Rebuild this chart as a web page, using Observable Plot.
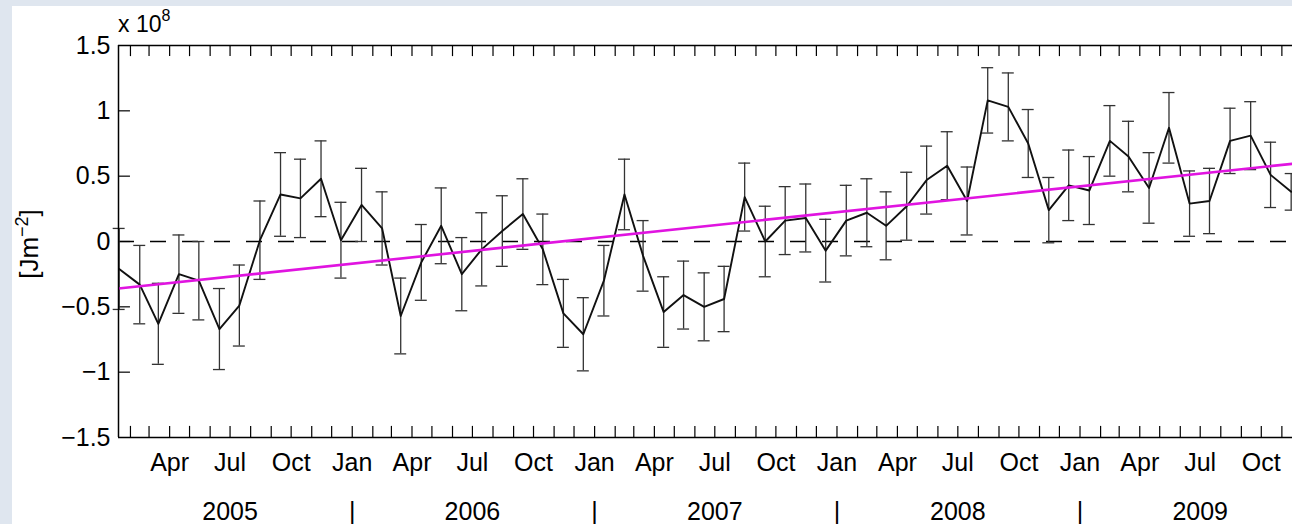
<!DOCTYPE html>
<html>
<head>
<meta charset="utf-8">
<script src="https://cdn.jsdelivr.net/npm/d3@7"></script>
<script src="https://cdn.jsdelivr.net/npm/@observablehq/plot@0.6"></script>
<style>
  html, body { margin: 0; padding: 0; overflow: hidden; }
  body { width: 1292px; height: 524px; position: relative; background: #dfe6ef; font-family: "Liberation Sans", Arial, sans-serif; }
  #paper { position: absolute; left: 12px; top: 6px; right: 0; bottom: 0; background: #ffffff; }
  #chart { position: absolute; left: 0; top: 0; width: 1292px; height: 524px; }
  #chart svg { max-width: none !important; display: block; }
  #ylab { position: absolute; left: 30px; top: 244px; transform: translate(-50%, -50%) rotate(-90deg); white-space: nowrap; font-size: 26px; line-height: 30px; color: #000; }
  #ylab .sup { font-size: 18px; position: relative; top: -10px; }
  #expo { position: absolute; left: 118px; top: 13px; font-size: 23px; line-height: 23px; color: #000; white-space: nowrap; }
  #expo .sup { font-size: 16px; position: relative; top: -11px; }
</style>
</head>
<body>
<div id="paper"></div>
<div id="chart"></div>
<div id="ylab">[Jm<span class="sup">−2</span>]</div>
<div id="expo">x 10<span class="sup">8</span></div>
<script>
// ---- data (monthly, starting January 2005; units of 10^8 J m^-2) ----
const startYear = 2005;
const anomaly = [
  -0.21, -0.33, -0.63, -0.25, -0.30, -0.67, -0.49,  0.01,  0.36,  0.33,  0.48,  0.01,
   0.28,  0.10, -0.57, -0.16,  0.12, -0.25, -0.06,  0.08,  0.21, -0.06, -0.55, -0.71,
  -0.30,  0.36, -0.11, -0.54, -0.41, -0.50, -0.44,  0.34,  0.00,  0.16,  0.18, -0.07,
   0.16,  0.22,  0.12,  0.27,  0.47,  0.58,  0.31,  1.08,  1.03,  0.75,  0.24,  0.43,
   0.39,  0.77,  0.65,  0.41,  0.87,  0.29,  0.31,  0.77,  0.81,  0.51,  0.38
];
const uncertainty = [
  0.31, 0.30, 0.31, 0.30, 0.30, 0.31, 0.31, 0.30, 0.32, 0.30, 0.29, 0.29,
  0.28, 0.28, 0.29, 0.29, 0.29, 0.28, 0.28, 0.27, 0.27, 0.27, 0.26, 0.28,
  0.27, 0.27, 0.27, 0.27, 0.26, 0.26, 0.25, 0.26, 0.27, 0.26, 0.26, 0.24,
  0.27, 0.26, 0.26, 0.26, 0.26, 0.26, 0.26, 0.25, 0.26, 0.26, 0.25, 0.27,
  0.26, 0.27, 0.27, 0.27, 0.27, 0.25, 0.25, 0.25, 0.26, 0.25, 0.14
];
const trendEnds = [-0.36, 0.61];           // linear fit at Jan 2005 / Dec 2009
const monthLabels = ["Jan", "Apr", "Jul", "Oct"];
const yearLabels = ["2005", "2006", "2007", "2008", "2009"];
const yTicks = [-1.5, -1, -0.5, 0, 0.5, 1, 1.5];

// ---- derived tables ----
const DAY = 864e5;
const series = anomaly.map((v, i) => ({date: new Date(Date.UTC(startYear, i, 15)), v, e: uncertainty[i]}));
const recordStart = new Date(Date.UTC(startYear, 0, 14));
const recordEnd = new Date(Date.UTC(2009, 11, 15));
const viewEnd = new Date(Date.UTC(2009, 10, 17));   // picture is cropped here
const trend = [{date: recordStart, v: trendEnds[0]}, {date: recordEnd, v: trendEnds[1]}];

const monthStarts = [];
for (let y = startYear; y < startYear + yearLabels.length; y++)
  for (let m = 0; m < 12; m++) {
    const d = new Date(Date.UTC(y, m, 1));
    if (d >= recordStart && d <= viewEnd) monthStarts.push(d);
  }
const quarterTicks = monthStarts.filter(d => d.getUTCMonth() % 3 === 0);
const yearCenters = yearLabels.map(y => ({label: y, date: new Date(Date.UTC(+y, 6, 1))}));
const yearSeps = yearLabels.slice(1).map(y => new Date(Date.UTC(+y, 0, 1)));
const tickLenX = 18 * DAY, tickLenY = 0.085, capHalf = 9 * DAY;
const innerY = yTicks.slice(1, -1);
const fmt = d => String(d).replace("-", "\u2212");

const chart = Plot.plot({
  width: 1292, height: 524, marginLeft: 118, marginRight: 0, marginTop: 45, marginBottom: 87,
  style: {fontFamily: "'Liberation Sans', Arial, sans-serif", fontSize: "25px", color: "#000", background: "transparent", overflow: "hidden", maxWidth: "none"},
  x: {type: "utc", domain: [recordStart, viewEnd], axis: null, label: null},
  y: {domain: [-1.5, 1.5], axis: null, label: null},
  marks: [
    Plot.ruleY([0], {stroke: "#000", strokeWidth: 1.5, strokeDasharray: "16,16"}),
    // inward ticks
    Plot.ruleX(monthStarts, {x: d => d, y1: -1.5, y2: -1.5 + tickLenY, stroke: "#000", strokeWidth: 1.2}),
    Plot.ruleX(monthStarts, {x: d => d, y1: 1.5, y2: 1.5 - tickLenY, stroke: "#000", strokeWidth: 1.2}),
    Plot.ruleY(innerY, {y: d => d, x1: recordStart, x2: new Date(+recordStart + tickLenX), stroke: "#000", strokeWidth: 1.2}),
    // error bars
    Plot.ruleX(series, {x: "date", y1: d => d.v - d.e, y2: d => d.v + d.e, stroke: "#333", strokeWidth: 1.3}),
    Plot.ruleY(series, {y: d => d.v + d.e, x1: d => new Date(+d.date - capHalf), x2: d => new Date(+d.date + capHalf), stroke: "#333", strokeWidth: 1.3}),
    Plot.ruleY(series, {y: d => d.v - d.e, x1: d => new Date(+d.date - capHalf), x2: d => new Date(+d.date + capHalf), stroke: "#333", strokeWidth: 1.3}),
    // series and trend
    Plot.line(series, {x: "date", y: "v", stroke: "#111", strokeWidth: 1.9}),
    Plot.line(trend, {x: "date", y: "v", stroke: "#e014e0", strokeWidth: 2.6, clip: true}),
    // axes box (right side lies beyond the cropped picture)
    Plot.ruleY([-1.5, 1.5], {x1: recordStart, x2: viewEnd, stroke: "#000", strokeWidth: 1.5}),
    Plot.ruleX([recordStart], {y1: -1.5, y2: 1.5, stroke: "#000", strokeWidth: 1.5}),
    // labels
    Plot.axisY(yTicks, {anchor: "left", label: null, tickSize: 0, tickPadding: 8, tickFormat: fmt, fontSize: 25}),
    Plot.axisX(quarterTicks, {anchor: "bottom", label: null, tickSize: 0, tickPadding: 16, fontSize: 25,
      tickFormat: d => monthLabels[d.getUTCMonth() / 3]}),
    Plot.text(yearCenters, {x: "date", text: "label", frameAnchor: "bottom", dy: 82, fontSize: 25}),
    Plot.text(yearSeps, {x: d => d, text: () => "|", frameAnchor: "bottom", dy: 82, fontSize: 25})
  ]
});
document.getElementById("chart").appendChild(chart);
</script>
</body>
</html>
